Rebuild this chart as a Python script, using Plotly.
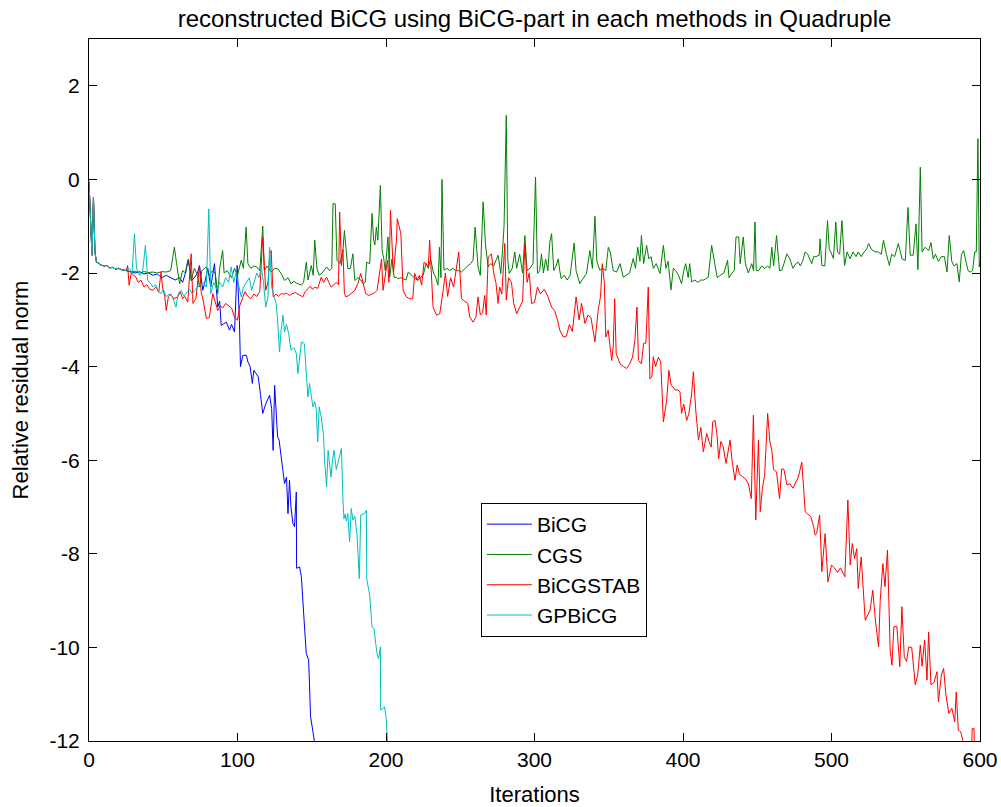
import plotly.graph_objects as go

# ---------------- data (iteration, log10 relative residual norm) ----------------
start_iter = [0, 1, 2, 3, 4, 5, 6, 8, 10, 12, 14, 16, 18, 20, 22, 24]
start_res = [-0.05, -0.9, -1.62, -0.38, -1.55, -1.77, -1.78, -1.83, -1.85, -1.84,
             -1.89, -1.88, -1.92, -1.9, -1.93, -1.94]

bicg_iter = [25, 28, 31, 34, 37, 40, 43, 46, 49, 52, 55, 58, 61, 63, 65, 66.5, 68, 69, 71, 73,
             74.4, 76.6, 78, 80, 82, 84.5, 86.7, 88, 89, 91, 92.5, 94.6, 96, 98, 99.8, 101.3,
             102, 103.6, 106, 107, 108.5, 110, 111, 112.5, 114, 115.5, 117, 119, 121.6, 123,
             124, 125, 127, 128, 129.4, 130.5, 131.7, 133, 134, 135, 136, 137.3, 138.4, 139.6,
             139.8, 141, 141.8, 143, 144, 145, 146.3, 147.9, 148.5, 149.2, 150.3, 152]
bicg_res = [-1.95, -1.98, -2.0, -1.97, -2.02, -2.0, -2.05, -2.02, -2.1, -2.05, -2.1, -2.15,
            -2.1, -2.2, -2.0, -1.73, -1.9, -2.16, -2.1, -2.0, -1.84, -2.37, -2.2, -1.9, -2.3,
            -1.8, -2.73, -2.6, -3.12, -3.08, -3.05, -3.22, -3.1, -3.26, -1.84, -3.01, -4.0,
            -3.76, -3.76, -3.9, -4.0, -4.36, -4.08, -4.15, -4.22, -4.6, -5.0, -4.8, -4.61,
            -4.9, -5.79, -4.4, -5.5, -5.57, -6.0, -6.2, -6.5, -6.36, -7.14, -6.43, -7.0,
            -7.35, -7.42, -6.68, -8.31, -8.3, -8.28, -8.49, -9.13, -9.5, -10.13, -10.27,
            -10.8, -11.48, -11.7, -12.05]

cgs_iter = [25, 28, 31, 34, 37, 40, 43, 46, 49, 52, 55, 57.5, 59, 61, 63, 65, 67, 68.8, 71, 73,
            74.4, 76, 79, 81, 83, 85, 86.7, 88, 90, 91, 93, 96, 98, 100, 102.5, 104, 105.8, 107,
            109, 111, 113, 115, 117, 118, 120, 122.7, 125, 127, 129.4, 131.7, 134, 136, 138,
            140, 143, 144.5, 146.3, 147.5, 149.7, 151, 152, 153.5, 155, 157, 160, 162, 163.5,
            164.3, 165.8, 167, 169, 171, 172, 173, 174.3, 176, 177.7, 179, 181, 183, 184.5,
            186, 187, 189, 190.6, 191.7, 192.5, 193.5, 194.5, 196.2, 197.4, 198.5, 199.5,
            201.3, 202.5, 204, 205.5, 207, 208, 210, 212, 213.5, 215, 217, 219, 221.5, 223,
            225, 227, 228.5, 230, 232, 233.5, 235, 236, 237, 237.7, 239, 241, 243, 245, 247,
            249, 250.8, 253, 255, 257, 258.6, 260, 262, 263.5, 265.4, 267, 268.8, 270.5,
            272.5, 275.5, 277.3, 278.5, 279.5, 281, 282, 283, 285, 286.7, 288, 290, 292,
            293.5, 295, 297, 299, 300.7, 302, 303.5, 304.7, 306, 307.5, 309, 310.3, 311.5,
            313, 314.5, 316, 317, 318, 320, 322, 324, 326.7, 328, 330.5, 332, 335, 337.3, 339,
            340.7, 342, 344, 346, 348, 349.7, 351, 353, 355.3, 357.6, 359.8, 362, 364, 366.5,
            368, 369.5, 371, 372, 373.5, 375.5, 377, 378.5, 380, 382, 384.5, 386.8, 388.5,
            390, 391.9, 393.5, 395, 397, 399, 400.5, 401.8, 403.5, 404.5, 405.8, 408, 410,
            412, 414, 417, 419.3, 421, 423, 425, 427.5, 430, 431, 433, 434.5, 435.7, 437.5,
            438.5, 440.6, 442, 444, 446.3, 447.5, 448.5, 449.3, 451, 453, 455, 457, 458.5,
            459.8, 461, 463, 465, 466.5, 468, 470, 472, 474, 476, 477.7, 479, 480.5, 482.3,
            484, 486.7, 488, 489.5, 491.7, 492.3, 493.5, 495.5, 497.3, 498.5, 499.5, 501.3,
            502.9, 504, 505.5, 507, 508.8, 510.5, 512.5, 514.5, 516.5, 518, 520, 522, 523.5,
            525, 527, 529.5, 531.5, 533.5, 535, 537, 539, 540.5, 542.5, 545, 547.5, 549.7,
            551.5, 553, 555, 556.9, 558.2, 559.8, 561, 563, 565.4, 567, 568.5, 570, 572, 574,
            576, 577.8, 579.3, 581, 582.5, 584.5, 586, 587.5, 589, 590.5, 592, 593.5, 595,
            596.4, 597.5, 598.6, 599.5, 600]
cgs_res = [-1.95, -1.98, -1.96, -2.0, -1.97, -1.99, -1.98, -2.0, -1.97, -1.98, -1.95, -1.45,
           -1.8, -2.23, -1.95, -2.0, -1.7, -2.16, -1.9, -2.05, -2.3, -1.95, -1.87, -2.05,
           -1.95, -2.0, -2.44, -1.9, -1.52, -2.0, -1.95, -2.1, -1.9, -2.05, -1.73, -1.9,
           -1.02, -1.8, -1.9, -1.85, -1.87, -1.95, -1.0, -1.95, -1.85, -1.98, -1.9, -1.91,
           -2.01, -2.16, -2.1, -2.23, -2.18, -2.22, -2.26, -2.2, -1.77, -2.15, -1.84, -2.05,
           -1.3, -1.9, -2.05, -2.0, -1.87, -1.95, -1.9, -0.52, -0.52, -1.73, -1.8, -1.52,
           -1.09, -1.4, -1.91, -1.9, -1.59, -2.16, -2.1, -2.15, -2.23, -2.2, -1.77, -1.8,
           -0.73, -1.3, -1.4, -1.02, -1.3, -0.13, -1.52, -1.7, -1.95, -1.23, -2.09, -1.7,
           -2.1, -2.09, -2.12, -2.1, -2.12, -2.15, -1.98, -2.05, -2.1, -2.16, -2.1, -2.05,
           -1.8, -1.9, -1.7, -2.0, -2.1, -2.26, -1.45, -2.1, 0.0, -1.94, -1.9, -1.95, -1.9,
           -1.95, -1.95, -1.98, -1.9, -1.85, -1.8, -1.73, -1.02, -1.87, -2.05, -0.48, -1.4,
           -1.87, -1.8, -1.85, -1.62, -2.01, -1.5, -1.0, 1.37, -1.73, -2.01, -1.9, -1.55,
           -1.9, -1.6, -2.0, -1.2, -1.95, -1.9, -1.8, 0.05, -2.01, -1.95, -1.59, -2.0, -1.7,
           -1.95, -1.34, -1.16, -1.95, -1.85, -1.7, -1.95, -2.12, -2.05, -2.15, -2.05, -1.36,
           -1.95, -2.23, -2.15, -2.01, -1.52, -1.9, -0.79, -1.75, -1.94, -1.9, -1.95, -1.45,
           -1.55, -1.95, -1.98, -1.8, -2.09, -2.05, -2.0, -1.69, -1.9, -1.45, -1.75, -1.2,
           -1.8, -1.41, -1.7, -1.65, -1.9, -1.8, -2.01, -1.41, -1.9, -1.75, -2.36, -1.9,
           -1.95, -2.05, -2.23, -1.95, -1.8, -2.1, -1.8, -2.19, -2.15, -2.2, -2.15, -2.15,
           -2.09, -1.41, -1.75, -2.1, -2.05, -2.0, -1.73, -2.1, -2.0, -1.95, -1.23, -1.23,
           -1.8, -1.23, -1.8, -2.0, -1.8, -1.95, -0.91, -1.95, -1.95, -1.85, -1.9, -1.85,
           -1.9, -1.45, -1.85, -1.2, -1.95, -1.94, -1.8, -1.59, -1.7, -1.9, -1.8, -1.77,
           -1.85, -1.75, -1.55, -1.6, -1.8, -1.65, -1.65, -1.62, -1.27, -1.84, -1.85, -0.88,
           -1.5, -1.55, -1.69, -0.91, -1.55, -1.6, -0.88, -1.84, -1.55, -1.7, -1.55, -1.65,
           -1.55, -1.65, -1.55, -1.5, -1.37, -1.5, -1.55, -1.55, -1.6, -1.3, -1.6, -1.84,
           -1.6, -1.65, -1.37, -1.7, -1.73, -0.6, -1.62, -1.62, -0.95, -1.93, 0.26, -1.55,
           -1.45, -1.52, -1.35, -1.7, -1.6, -1.75, -1.65, -1.65, -1.98, -1.2, -1.75, -1.85,
           -1.8, -2.19, -1.6, -1.52, -1.75, -1.95, -1.98, -1.95, -1.55, -1.55, 0.87, -1.87,
           -1.75]

bicgstab_iter = [25, 26, 27, 28.5, 30, 31.7, 33, 35, 37, 39, 41, 43, 45, 47, 48.5, 49.5, 51,
                 52, 53.5, 55, 57, 59.8, 61.5, 63, 64.5, 66.5, 68.8, 70, 72, 74.4, 75.5, 77,
                 79, 81, 83.4, 85, 86.7, 88.5, 90, 92, 94, 96, 98, 100, 101.5, 103, 105, 107,
                 109, 111, 113, 115, 117, 119, 120.5, 121.7, 122.7, 124, 126, 127.5, 129.4,
                 131, 133, 135, 137, 139, 141, 144, 145.5, 147.4, 149, 150.5, 152, 154, 156.4,
                 158, 160, 161.5, 163, 165, 166.5, 168, 168.8, 170, 171, 172, 173, 175, 177,
                 179, 181, 183, 184.5, 186.3, 188.5, 190.5, 192.5, 194, 195.5, 197, 198,
                 199.6, 201, 202, 203, 205, 206, 207, 207.6, 209, 210, 211.5, 213.7, 216, 218,
                 219.3, 221, 222.5, 224, 225.6, 227, 228.5, 229.4, 230.6, 231.7, 234, 236.2,
                 238.5, 240, 241.5, 243.5, 245.5, 247.5, 249, 250.8, 253, 255, 256.4, 258.6,
                 260.5, 262, 263.5, 265, 266.5, 267.5, 268.8, 271, 272.5, 274, 275.5, 276.5,
                 278, 280, 281, 282.5, 284.5, 286, 288, 290, 292, 293.5, 295, 296.5, 298, 300,
                 302, 304, 306.5, 309, 311.5, 313.5, 315.5, 317, 319.4, 321.5, 323.5, 325.5,
                 328, 330, 331.7, 334, 336, 338, 340.7, 343, 344.5, 345.6, 347, 348, 349.6,
                 351, 352, 353, 354, 355, 357.6, 360, 362, 364, 366, 367.6, 369, 370, 372,
                 373.5, 375, 376.6, 377.7, 379, 380, 381.5, 383.4, 385, 386.8, 389, 390.5, 392,
                 393.5, 394.6, 396.8, 398, 399, 400.5, 402.5, 404, 405.8, 407, 408.5, 410.4,
                 412, 413.7, 416, 417.5, 419, 420, 421.6, 423, 424, 425.5, 427, 429, 430.5,
                 431.7, 433, 435, 436.5, 438, 440, 442, 444, 446, 447.4, 449, 450.8, 452,
                 453.5, 455, 457, 458.5, 459.8, 461, 463, 465, 466.5, 468, 470, 472, 474, 476,
                 477.7, 480, 482.3, 484, 486, 488, 489, 490, 492, 493.5, 495.7, 497.6, 499,
                 500, 502, 504, 506, 508, 509, 511, 512.6, 514, 515.5, 517, 518, 520, 521.5,
                 522.7, 524.5, 526, 527.8, 529.5, 531.7, 532.8, 534.6, 536, 537.7, 539.5,
                 540.7, 542, 544, 546, 547.4, 549, 550.5, 552, 554, 556.4, 558, 559.8, 561,
                 562.7, 564.3, 565.4, 567, 569, 571, 572, 574, 575.5, 577, 579, 581, 583, 584,
                 585.4, 587, 588.4, 590, 594, 594.8, 596, 596.3]
bicgstab_res = [-1.95, -1.84, -2.26, -2.0, -2.05, -2.09, -2.2, -2.15, -2.3, -2.25, -2.35,
                -2.37, -2.3, -2.4, -1.98, -2.3, -2.5, -2.8, -2.5, -2.45, -2.55, -2.51, -2.4,
                -2.55, -2.5, -2.62, -1.59, -2.65, -2.55, -1.84, -2.4, -2.6, -2.97, -2.95,
                -2.44, -2.6, -2.8, -2.7, -2.75, -2.65, -2.7, -2.75, -2.94, -3.01, -2.7, -2.55,
                -2.4, -2.5, -2.55, -2.45, -2.5, -2.4, -1.23, -2.37, -2.2, -1.6, -1.52, -2.51,
                -2.45, -2.5, -2.44, -2.45, -2.43, -2.48, -2.44, -2.42, -2.46, -2.51, -2.4,
                -2.33, -2.28, -2.35, -2.3, -2.33, -2.09, -2.2, -2.09, -2.2, -2.3, -2.25, -2.2,
                -2.25, -0.7, -1.84, -1.5, -2.44, -2.51, -2.48, -2.42, -2.37, -2.23, -2.01,
                -2.2, -2.44, -2.48, -2.45, -2.42, -2.37, -2.0, -1.7, -2.37, -2.01, -1.73,
                -2.2, -0.66, -2.01, -1.6, -1.3, -0.84, -1.0, -1.16, -2.37, -2.51, -2.55,
                -2.55, -2.01, -2.15, -2.05, -2.26, -1.77, -1.8, -1.85, -1.3, -1.94, -2.73,
                -2.9, -2.87, -2.37, -2.0, -2.5, -2.1, -2.3, -1.9, -1.55, -2.55, -2.6, -2.65,
                -2.94, -3.05, -2.95, -2.51, -2.9, -2.85, -2.48, -2.9, -1.66, -1.59, -2.0,
                -2.2, -2.65, -2.3, -2.45, -1.37, -2.58, -2.1, -2.2, -2.65, -2.87, -2.75, -2.6,
                -1.37, -2.2, -2.0, -2.65, -2.63, -2.3, -2.45, -2.35, -2.5, -2.73, -2.8, -3.0,
                -3.22, -3.37, -3.35, -3.1, -3.25, -2.51, -3.0, -2.65, -3.08, -2.9, -2.95,
                -3.47, -2.76, -2.5, -1.8, -2.2, -3.37, -3.22, -3.6, -3.87, -3.58, -2.55,
                -3.72, -3.94, -4.0, -4.04, -3.95, -3.8, -3.44, -2.73, -3.87, -3.94, -3.5,
                -3.5, -2.3, -4.26, -4.22, -3.79, -4.0, -3.8, -3.9, -5.18, -4.72, -4.08, -4.4,
                -4.44, -4.5, -4.5, -4.55, -5.0, -4.8, -5.15, -5.0, -4.58, -4.11, -4.9, -5.57,
                -5.3, -5.82, -5.43, -5.6, -5.72, -5.18, -5.15, -5.5, -5.97, -5.6, -5.7, -6.07,
                -5.8, -5.57, -6.0, -6.43, -6.1, -6.3, -6.35, -6.4, -6.5, -6.82, -5.04, -7.28,
                -5.57, -7.1, -6.6, -6.3, -5.0, -5.6, -5.79, -6.2, -6.25, -6.82, -6.18, -6.2,
                -6.53, -6.5, -6.6, -6.45, -6.36, -6.04, -7.1, -7.15, -7.2, -7.42, -7.6, -7.57,
                -7.17, -8.38, -7.57, -8.6, -8.35, -8.24, -8.3, -8.4, -8.3, -8.45, -8.49,
                -6.85, -8.24, -7.78, -8.1, -7.89, -8.74, -8.07, -8.8, -9.42, -9.3, -9.2,
                -8.78, -9.4, -9.99, -9.0, -8.21, -8.7, -7.92, -10.06, -10.38, -9.56, -9.55,
                -10.41, -9.13, -10.2, -10.3, -9.99, -10.0, -10.8, -10.6, -9.95, -10.4, -9.84,
                -10.7, -9.67, -10.8, -10.75, -10.52, -11.16, -10.59, -10.45, -11.0, -11.41,
                -11.3, -11.59, -10.95, -11.77, -11.8, -11.98, -12.4, -12.4, -11.73, -11.73,
                -12.4]

gpbicg_iter = [25, 27, 29, 30.6, 32, 34, 36, 38, 39.5, 41, 43, 45, 46.5, 48.5, 50, 52, 54,
               56, 58.6, 60, 62, 64, 66, 68, 69.5, 71, 73, 75, 77, 79, 80.7, 82, 84, 86, 88,
               90, 92, 94, 95.7, 97.5, 99, 101, 102.5, 104, 106, 108, 109.5, 111, 113, 114.5,
               116, 117.5, 119, 120.5, 121.6, 123, 124.5, 126, 127, 128.3, 129.4, 130.6,
               131.7, 133, 134.5, 136, 138, 139.6, 140.7, 142, 143, 145, 146, 147.4, 148.5,
               150, 150.8, 152, 153, 154, 155, 156.5, 158, 158.6, 160, 161, 162, 163, 164,
               165, 166.5, 168, 170, 171, 171.7, 172.5, 173.3, 174.3, 175.5, 176.6, 177.7,
               179, 180.5, 182, 183, 185.6, 186.8, 187, 188, 189, 190.6, 192, 193, 194, 195,
               196.2, 196.4, 198, 199, 200.2, 201]
gpbicg_res = [-1.95, -1.9, -2.0, -1.16, -1.9, -2.05, -2.0, -1.41, -2.16, -2.2, -2.3, -2.25,
              -2.4, -2.44, -2.35, -2.51, -2.45, -2.5, -2.73, -2.45, -2.37, -2.5, -2.4, -2.35,
              -2.45, -2.37, -2.3, -2.25, -2.2, -2.3, -0.63, -2.44, -2.2, -2.35, -2.2, -2.3,
              -2.1, -2.2, -1.87, -2.2, -2.0, -2.3, -2.51, -2.3, -2.2, -2.1, -2.37, -2.2,
              -2.0, -2.1, -1.87, -2.2, -2.73, -2.51, -1.45, -2.3, -2.5, -2.65, -3.0, -3.69,
              -3.22, -2.9, -3.26, -3.1, -3.3, -3.65, -3.6, -3.72, -4.15, -3.8, -3.47, -3.51,
              -4.0, -4.65, -4.36, -4.7, -4.86, -4.75, -4.9, -5.61, -4.86, -5.1, -5.5, -6.0,
              -6.57, -5.79, -6.1, -6.36, -6.0, -5.79, -6.2, -6.0, -5.75, -6.85, -7.25, -7.15,
              -7.3, -7.14, -7.74, -7.03, -7.28, -7.2, -7.6, -8.53, -7.17, -7.14, -7.07,
              -8.53, -8.7, -8.88, -9.56, -9.6, -9.9, -10.13, -10.24, -9.99, -11.34, -11.3,
              -11.27, -11.52, -12.05]

series_names = ["BiCG", "CGS", "BiCGSTAB", "GPBiCG"]
series_colors = ["#0000FF", "#008000", "#FF0000", "#00BFBF"]
series_iters = [bicg_iter, cgs_iter, bicgstab_iter, gpbicg_iter]
series_res = [bicg_res, cgs_res, bicgstab_res, gpbicg_res]

x_tick_vals = [0, 100, 200, 300, 400, 500, 600]
y_tick_vals = [-12, -10, -8, -6, -4, -2, 0, 2]
y_tick_text = ["-12", "-10", "-8", "-6", "-4", "-2", "0", "2"]

title_text = "reconstructed BiCG using BiCG-part in each methods in Quadruple"
x_label = "Iterations"
y_label = "Relative residual norm"

FONT = "Liberation Sans, Arial, Helvetica, sans-serif"

# ---------------- figure ----------------
fig = go.Figure()
for name, color, xs, ys in zip(series_names, series_colors, series_iters, series_res):
    fig.add_trace(go.Scatter(
        x=start_iter + xs, y=start_res + ys, mode="lines", name=name,
        line=dict(color=color, width=1), hoverinfo="skip"))

axis_common = dict(
    showgrid=False, zeroline=False, showline=True, linecolor="black", linewidth=1,
    mirror="ticks", ticks="inside", ticklen=8, tickcolor="black", tickwidth=1,
    tickfont=dict(family=FONT, size=21, color="black"), automargin=False,
)

fig.update_layout(
    width=1001, height=807,
    margin=dict(l=89, r=21, t=39, b=66),
    paper_bgcolor="white", plot_bgcolor="white",
    font=dict(family=FONT, color="black"),
    title=dict(text=title_text, x=0.5, xref="paper", xanchor="center",
               y=1 - 19 / 807, yref="container", yanchor="middle",
               font=dict(family=FONT, size=24, color="black")),
    xaxis=dict(range=[0, 600], tickvals=x_tick_vals, ticklabelstandoff=0,
               title=dict(text=x_label, font=dict(family=FONT, size=22), standoff=16),
               **axis_common),
    yaxis=dict(range=[-12, 3], tickvals=y_tick_vals, ticktext=y_tick_text,
               ticklabelstandoff=4,
               title=dict(text=y_label, font=dict(family=FONT, size=22), standoff=14),
               **axis_common),
    legend=dict(x=0.533, y=0.2436, xanchor="center", yanchor="middle",
                bordercolor="black", borderwidth=1, bgcolor="white",
                font=dict(family=FONT, size=21, color="black"),
                itemwidth=45, tracegroupgap=0),
    showlegend=True,
)

fig.write_html("out.html")
